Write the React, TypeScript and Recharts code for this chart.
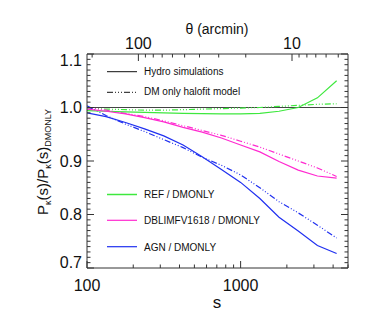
import { LineChart, Line, XAxis, YAxis, ReferenceLine } from "recharts";

// multipole s (log-spaced samples)
const S = [100, 133, 178, 237, 316, 422, 562, 750, 1000, 1334, 1778, 2371, 3162, 4217];

// hydro simulations (solid)
const REF_HYDRO = [0.994, 0.993, 0.992, 0.991, 0.99, 0.989, 0.9885, 0.988, 0.988, 0.989, 0.993, 1.0, 1.018, 1.05];
const DBL_HYDRO = [0.997, 0.993, 0.988, 0.981, 0.973, 0.963, 0.954, 0.943, 0.93, 0.917, 0.899, 0.883, 0.872, 0.868];
const AGN_HYDRO = [0.99, 0.983, 0.972, 0.96, 0.947, 0.93, 0.908, 0.884, 0.86, 0.83, 0.795, 0.769, 0.742, 0.727];

// DM only halofit model (dash-dot)
const REF_HALO = [0.999, 0.997, 0.996, 0.995, 0.995, 0.996, 0.997, 0.998, 0.999, 1.0, 1.002, 1.004, 1.006, 1.007];
const DBL_HALO = [1.0, 0.995, 0.989, 0.983, 0.975, 0.966, 0.957, 0.948, 0.937, 0.926, 0.913, 0.9, 0.887, 0.871];
const AGN_HALO = [1.003, 0.985, 0.969, 0.955, 0.94, 0.925, 0.907, 0.892, 0.874, 0.85, 0.824, 0.803, 0.78, 0.756];

const S_TICKS = [100, 200, 300, 400, 500, 600, 700, 800, 900, 1000, 2000, 3000, 4000, 5000];
const S_LABELS = [100, 1000];
const THETA_TICKS = [200, 100, 90, 80, 70, 60, 50, 40, 30, 20, 10, 9, 8, 7, 6, 5];
const THETA_LABELS = [100, 10];
const Y_TICKS = Array.from({ length: 41 }, (_, i) => (70 + i) / 100);

const ARCMIN = 21600; // theta[arcmin] = 21600 / s

const GREEN = "#3ee83e";
const MAGENTA = "#ff2ad0";
const BLUE = "#2030f0";
const AXIS = "#333";
const FONT = "'Liberation Sans', Arial, Helvetica, sans-serif";
const NARROW = "'Liberation Sans Narrow', 'Arial Narrow', 'Liberation Sans', Arial, sans-serif";
const DASHDOT = "6 2 1 2 1 2 1 2";

const data = S.map((s, i) => ({
  s,
  refHydro: REF_HYDRO[i],
  dblHydro: DBL_HYDRO[i],
  agnHydro: AGN_HYDRO[i],
  refHalo: REF_HALO[i],
  dblHalo: DBL_HALO[i],
  agnHalo: AGN_HALO[i],
}));

const BottomTick = ({ x, y, payload }: any) => {
  const major = S_LABELS.includes(payload.value);
  return (
    <g>
      <line x1={x} x2={x} y1={y} y2={y - (major ? 7 : 3.5)} stroke={AXIS} />
      {major && (
        <text x={x} y={y + 22.5} textAnchor="middle" fontSize={16} fontFamily={FONT} fill="#111">
          {payload.value}
        </text>
      )}
    </g>
  );
};

const TopTick = ({ x, y, payload }: any) => {
  const theta = Math.round(ARCMIN / payload.value);
  const major = THETA_LABELS.includes(theta);
  return (
    <g>
      <line x1={x} x2={x} y1={y} y2={y + (major ? 7 : 3.5)} stroke={AXIS} />
      {major && (
        <text x={x} y={y - 5} textAnchor="middle" fontSize={16} fontFamily={FONT} fill="#111">
          {theta}
        </text>
      )}
    </g>
  );
};

const LeftTick = ({ x, y, payload }: any) => {
  const v = Math.round(payload.value * 100);
  const major = v % 10 === 0;
  const dy = v === 110 ? 11.5 : v === 70 ? 0 : 5.7;
  return (
    <g>
      <line x1={x} x2={x + (major ? 7 : 3.5)} y1={y} y2={y} stroke={AXIS} />
      {major && (
        <text x={x - 5} y={y + dy} textAnchor="end" fontSize={16} fontFamily={FONT} fill="#111">
          {(v / 100).toFixed(1)}
        </text>
      )}
    </g>
  );
};

const RightTick = ({ x, y, payload }: any) => {
  const major = Math.round(payload.value * 100) % 10 === 0;
  return <line x1={x} x2={x - (major ? 7 : 3.5)} y1={y} y2={y} stroke={AXIS} />;
};

const legendText = { fontSize: 10, fontFamily: NARROW, fill: "#111" };
const axisLine = { stroke: AXIS, strokeWidth: 1 };

export default function App() {
  return (
    <div style={{ position: "absolute", left: 0, top: 0, width: 374, height: 324, background: "#fff" }}>
      <LineChart width={374} height={324} data={data} margin={{ top: 24, right: 16, bottom: 26, left: 27 }}>
        <XAxis
          xAxisId="bottom"
          dataKey="s"
          type="number"
          scale="log"
          domain={[100, 5000]}
          allowDataOverflow
          ticks={S_TICKS}
          interval={0}
          height={30}
          tickSize={0}
          tickMargin={0}
          tickLine={false}
          axisLine={axisLine}
          tick={<BottomTick />}
        />
        <XAxis
          xAxisId="top"
          dataKey="s"
          orientation="top"
          type="number"
          scale="log"
          domain={[100, 5000]}
          allowDataOverflow
          ticks={THETA_TICKS.map((t) => ARCMIN / t)}
          interval={0}
          height={30}
          tickSize={0}
          tickMargin={0}
          tickLine={false}
          axisLine={axisLine}
          tick={<TopTick />}
        />
        <YAxis
          yAxisId="left"
          type="number"
          domain={[0.7, 1.1]}
          allowDataOverflow
          ticks={Y_TICKS}
          interval={0}
          width={60}
          tickSize={0}
          tickMargin={0}
          tickLine={false}
          axisLine={axisLine}
          tick={<LeftTick />}
        />
        <YAxis
          yAxisId="right"
          orientation="right"
          type="number"
          domain={[0.7, 1.1]}
          allowDataOverflow
          ticks={Y_TICKS}
          interval={0}
          width={10}
          tickSize={0}
          tickMargin={0}
          tickLine={false}
          axisLine={axisLine}
          tick={<RightTick />}
        />
        <ReferenceLine xAxisId="bottom" yAxisId="left" y={1} stroke="#444" strokeWidth={1} />
        <Line xAxisId="bottom" yAxisId="left" dataKey="refHalo" stroke={GREEN} strokeWidth={1.2} strokeDasharray={DASHDOT} dot={false} isAnimationActive={false} />
        <Line xAxisId="bottom" yAxisId="left" dataKey="dblHalo" stroke={MAGENTA} strokeWidth={1.2} strokeDasharray={DASHDOT} dot={false} isAnimationActive={false} />
        <Line xAxisId="bottom" yAxisId="left" dataKey="agnHalo" stroke={BLUE} strokeWidth={1.2} strokeDasharray={DASHDOT} dot={false} isAnimationActive={false} />
        <Line xAxisId="bottom" yAxisId="left" dataKey="refHydro" stroke={GREEN} strokeWidth={1.2} dot={false} isAnimationActive={false} />
        <Line xAxisId="bottom" yAxisId="left" dataKey="dblHydro" stroke={MAGENTA} strokeWidth={1.2} dot={false} isAnimationActive={false} />
        <Line xAxisId="bottom" yAxisId="left" dataKey="agnHydro" stroke={BLUE} strokeWidth={1.2} dot={false} isAnimationActive={false} />
      </LineChart>
      <svg width={374} height={324} style={{ position: "absolute", left: 0, top: 0, pointerEvents: "none" }}>
        <text x={217} y={34} textAnchor="middle" fontSize={14} fontFamily={FONT} fill="#111">
          θ (arcmin)
        </text>
        <text x={217} y={308} textAnchor="middle" fontSize={17} fontFamily={FONT} fill="#111">
          s
        </text>
        <text transform="translate(48,162) rotate(-90)" textAnchor="middle" fontSize={15} fontFamily={FONT} fill="#111">
          P<tspan fontSize={9} dy={3}>κ</tspan>
          <tspan dy={-3}>(s)/P</tspan>
          <tspan fontSize={9} dy={3}>κ</tspan>
          <tspan dy={-3}>(s)</tspan>
          <tspan fontSize={9} dy={3}>DMONLY</tspan>
        </text>

        <line x1={107} x2={137} y1={71.7} y2={71.7} stroke="#111" strokeWidth={1} />
        <text x={144} y={74.6} {...legendText}>Hydro simulations</text>
        <line x1={107} x2={137} y1={92.3} y2={92.3} stroke="#111" strokeWidth={1} strokeDasharray={DASHDOT} />
        <text x={144} y={95.3} {...legendText}>DM only halofit model</text>

        <line x1={107} x2={137} y1={194.5} y2={194.5} stroke={GREEN} strokeWidth={1.5} />
        <text x={144} y={197.5} {...legendText}>REF / DMONLY</text>
        <line x1={107} x2={137} y1={220.3} y2={220.3} stroke={MAGENTA} strokeWidth={1.2} />
        <text x={144} y={223.5} {...legendText}>DBLIMFV1618 / DMONLY</text>
        <line x1={107} x2={137} y1={246.7} y2={246.7} stroke={BLUE} strokeWidth={1.2} />
        <text x={144} y={250.5} {...legendText}>AGN / DMONLY</text>
      </svg>
    </div>
  );
}
